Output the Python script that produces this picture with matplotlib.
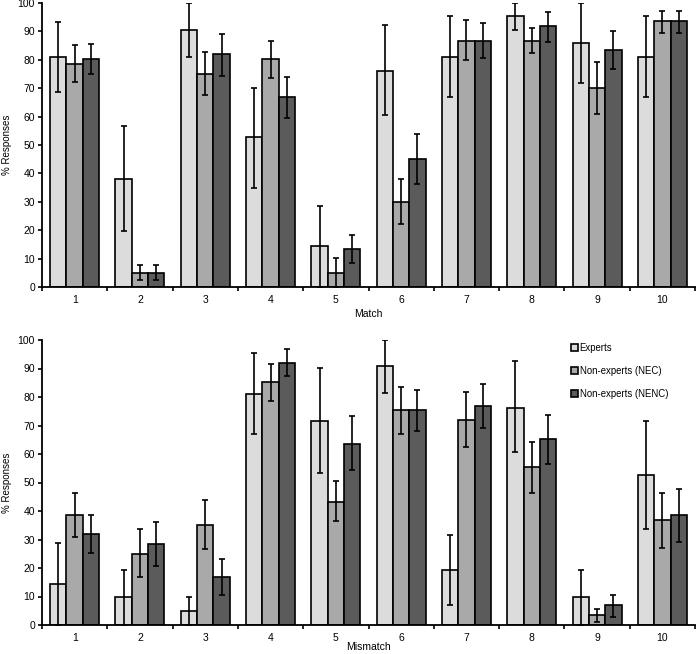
import matplotlib
matplotlib.use("Agg")
import matplotlib.pyplot as plt
import numpy as np

plt.rcParams["font.family"] = ["Liberation Sans", "DejaVu Sans"]

categories = [1, 2, 3, 4, 5, 6, 7, 8, 9, 10]
series = ["Experts", "Non-experts (NEC)", "Non-experts (NENC)"]

# Match panel: bar heights and error bar ends (low / high)
match_exp = [81.0, 38.1, 90.5, 52.7, 14.3, 76.2, 81.0, 95.4, 85.8, 81.0]
match_exp_lo = [68.7, 19.8, 81.0, 34.7, 0.0, 60.4, 66.8, 90.6, 71.7, 66.8]
match_exp_hi = [93.3, 56.6, 100.0, 70.1, 28.6, 92.4, 95.4, 100.0, 100.0, 95.4]
match_nec = [78.5, 5.0, 75.1, 80.3, 5.0, 30.0, 86.7, 86.7, 70.0, 93.5]
match_nec_lo = [72.3, 2.3, 67.5, 73.5, 0.0, 22.2, 79.8, 82.4, 61.0, 89.6]
match_nec_hi = [85.1, 7.6, 82.6, 86.7, 10.2, 38.1, 93.9, 91.2, 79.3, 97.3]
match_nenc = [80.3, 5.0, 82.0, 66.9, 13.4, 45.1, 86.7, 91.9, 83.3, 93.5]
match_nenc_lo = [75.1, 2.3, 74.4, 59.5, 8.5, 36.3, 80.6, 86.4, 76.8, 89.6]
match_nenc_hi = [85.6, 7.6, 89.2, 74.1, 18.4, 54.0, 93.0, 96.9, 90.3, 97.3]

# Mismatch panel
mis_exp = [14.5, 9.7, 4.9, 81.2, 71.7, 90.8, 19.3, 76.0, 9.7, 52.6]
mis_exp_lo = [0.0, 0.0, 0.0, 66.9, 53.2, 81.3, 7.0, 60.7, 0.0, 33.6]
mis_exp_hi = [28.9, 19.3, 9.7, 95.6, 90.1, 100.0, 31.5, 92.5, 19.3, 71.7]
mis_nec = [38.6, 24.9, 35.2, 85.3, 43.3, 75.4, 72.0, 55.4, 3.5, 36.8]
mis_nec_lo = [30.8, 16.7, 26.7, 78.7, 36.6, 66.9, 62.5, 46.4, 1.2, 27.1]
mis_nec_hi = [46.2, 33.6, 43.7, 91.7, 50.5, 83.6, 81.6, 64.2, 5.6, 46.4]
mis_nenc = [31.8, 28.4, 16.8, 92.0, 63.5, 75.4, 76.7, 65.3, 7.0, 38.6]
mis_nenc_lo = [25.4, 20.7, 10.5, 87.3, 54.4, 68.0, 69.2, 56.6, 2.9, 29.1]
mis_nenc_hi = [38.7, 36.1, 23.0, 96.8, 73.3, 82.5, 84.6, 73.6, 10.6, 47.8]

colors = ["#dcdcdc", "#a9a9a9", "#5b5b5b"]
W, H = 697, 654


def panel(ax, data, xlabel, xlab_y):
    x = np.arange(1, len(categories) + 1)
    bw = 0.25
    for k, (vals, lo, hi) in enumerate(data):
        vals, lo, hi = np.array(vals), np.array(lo), np.array(hi)
        pos = x + (k - 1) * bw
        ax.bar(pos, vals, width=bw, color=colors[k], edgecolor="black",
               linewidth=1.2, label=series[k], zorder=2)
        ax.errorbar(pos, vals, yerr=[vals - lo, hi - vals], fmt="none",
                    ecolor="black", elinewidth=1.2, capsize=2.5, capthick=1.2, zorder=3)
    ax.set_xlim(0.5, len(categories) + 0.5)
    ax.set_ylim(0, 100)
    ax.set_yticks(range(0, 101, 10))
    ax.set_xticks(x)
    ax.set_xticklabels([str(c) for c in categories])
    ax.set_xticks(np.arange(0.5, len(categories) + 1, 1), minor=True)
    ax.tick_params(axis="x", which="major", length=0, labelsize=7.5, pad=6)
    ax.tick_params(axis="x", which="minor", length=3, width=1.2)
    ax.tick_params(axis="y", length=3, width=1.2, labelsize=7.5, pad=2)
    for s in ("top", "right"):
        ax.spines[s].set_visible(False)
    for s in ("left", "bottom"):
        ax.spines[s].set_linewidth(1.3)
    ax.set_ylabel("% Responses", fontsize=7, va="center")
    ax.yaxis.set_label_coords(-0.054, 0.5)
    ax.set_xlabel(xlabel, fontsize=7.5, va="center")
    ax.xaxis.set_label_coords(0.5, xlab_y)


fig = plt.figure(figsize=(W / 100, H / 100), dpi=100)
ax1 = fig.add_axes([42 / W, 1 - 287 / H, (695 - 42) / W, (287 - 3) / H])
ax2 = fig.add_axes([42 / W, 1 - 625 / H, (695 - 42) / W, (625 - 340) / H])

panel(ax1, [(match_exp, match_exp_lo, match_exp_hi),
            (match_nec, match_nec_lo, match_nec_hi),
            (match_nenc, match_nenc_lo, match_nenc_hi)], "Match", -27 / 284)
panel(ax2, [(mis_exp, mis_exp_lo, mis_exp_hi),
            (mis_nec, mis_nec_lo, mis_nec_hi),
            (mis_nenc, mis_nenc_lo, mis_nenc_hi)], "Mismatch", -22 / 285)

ax2.legend(loc="upper left", bbox_to_anchor=(0.797, 1.02), frameon=False, fontsize=6.9,
           handlelength=0.7, handleheight=0.7, handletextpad=0.2, labelspacing=1.35)

fig.savefig("out.png", dpi=100)
